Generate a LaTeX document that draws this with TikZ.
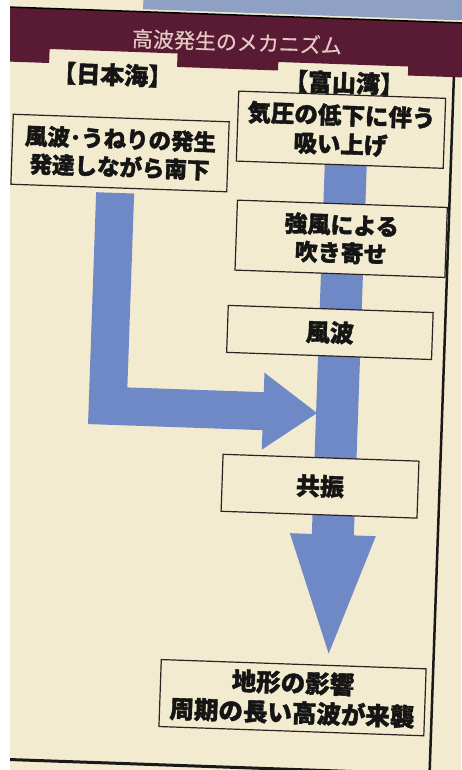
\documentclass[tikz,border=0pt]{standalone}
\usepackage{fontspec}
\newfontfamily\jp{Noto Sans CJK JP}[BoldFeatures={FakeBold=1.6}]
\newfontfamily\jptitle{Noto Sans CJK JP}[FakeBold=0.6]
\pgfdeclarelayer{back}
\pgfdeclarelayer{mid}
\pgfsetlayers{back,mid,main}
\definecolor{paper}{HTML}{F2EBCF}
\definecolor{maroon}{HTML}{581B33}
\definecolor{titletext}{HTML}{E3C7C2}
\definecolor{arrowblue}{HTML}{6F88C6}
\definecolor{photoblue}{HTML}{8FA0C5}
\definecolor{boxline}{HTML}{2B2323}
\definecolor{ink}{HTML}{151515}
\begin{document}
\begin{tikzpicture}[x=1pt,y=-1pt,
  box/.style={draw=boxline, line width=1.2pt, fill=paper, align=center,
    inner sep=0pt, text=ink},
  tab/.style={inner sep=0pt, text=ink, font=\jp\bfseries\fontsize{24}{24}\selectfont},
  flow/.style={draw=arrowblue},
  flowhead/.style={fill=arrowblue},
  frameline/.style={draw=black!90}]
\useasboundingbox (0,0) rectangle (461,770);
\begin{pgfonlayer}{back}
  \fill[paper] (0,0) rectangle (461,770);
\end{pgfonlayer}
\begin{scope}[rotate around={-2:(230,385)}, transform shape]
  % title and section labels
  \node[inner sep=0pt, text=titletext, font=\jptitle\fontsize{21}{21}\selectfont] (title) at (225,42) {高波発生のメカニズム};
  \node[tab] (sea) at (101.6,79) {【日本海】};
  \node[tab] (bay) at (333.4,79) {【富山湾】};
  % boxes
  \node[box, minimum width=216pt, minimum height=70pt,
    font=\jp\bfseries\fontsize{22.5}{28}\selectfont] (A) at (112,157) {風波･うねりの発生\\発達しながら南下};
  \node[box, minimum width=207pt, minimum height=70pt,
    font=\jp\bfseries\fontsize{23.5}{29}\selectfont] (B) at (332,126) {気圧の低下に伴う\\吸い上げ};
  \node[box, minimum width=210pt, minimum height=70pt,
    font=\jp\bfseries\fontsize{23}{28}\selectfont] (C) at (336,235) {強風による\\吹き寄せ};
  \node[box, minimum width=205pt, minimum height=47pt,
    font=\jp\bfseries\fontsize{24}{28}\selectfont] (D) at (328,329) {風波};
  \node[box, minimum width=196pt, minimum height=57pt,
    font=\jp\bfseries\fontsize{24}{28}\selectfont] (E) at (323.5,483) {共振};
  \node[box, minimum width=265pt, minimum height=67pt,
    font=\jp\bfseries\fontsize{24.5}{30}\selectfont] (F) at (303.4,695.3) {地形の影響\\周期の長い高波が来襲};
  % header band
  \begin{pgfonlayer}{back}
    \fill[photoblue] (130,-30) rectangle (480,12.5);
    \fill[maroon] (-20,15) -- (480,15) -- (480,69.5) -- (397,69.5) -- (397,60.5)
      -- (267,60.5) -- (267,69) -- (166,69) -- (166,55.5) -- (38,55.5)
      -- (38,69.5) -- (-20,69.5) -- cycle;
    \draw[black, line width=1.5pt] (-20,15) -- (480,15);
  \end{pgfonlayer}
  % flow arrows
  \begin{pgfonlayer}{mid}
    \coordinate (ctop) at (338,161);
    \coordinate (cbase) at (338,531.5);
    \coordinate (ctip) at (338,650);
    \coordinate (chl) at (295,531);
    \coordinate (chr) at (381,531);
    \draw[flow, line width=42pt] (ctop) -- (cbase);
    \fill[flowhead] (chl) -- (ctip) -- (chr) -- cycle;
    \coordinate (ltop) at (108.5,197);
    \coordinate (lcorner) at (108.5,410);
    \coordinate (lbase) at (266,410);
    \coordinate (ltip) at (318,410);
    \coordinate (lhu) at (264,371.5);
    \coordinate (lhd) at (264,448.5);
    \draw[flow, line width=38pt, line join=miter] (ltop) -- (lcorner) -- (lbase);
    \fill[flowhead] (lhu) -- (ltip) -- (lhd) -- cycle;
    % frame
    \coordinate (frtop) at (443,69);
    \coordinate (frbot) at (443,790);
    \coordinate (fbl) at (-20,767);
    \coordinate (fbr) at (443,767);
    \draw[frameline, line width=2.5pt] (frtop) -- (frbot);
    \draw[frameline, line width=3pt] (fbl) -- (fbr);
  \end{pgfonlayer}
\end{scope}
\fill[white] (0,0) rectangle (10,770);
\end{tikzpicture}
\end{document}
